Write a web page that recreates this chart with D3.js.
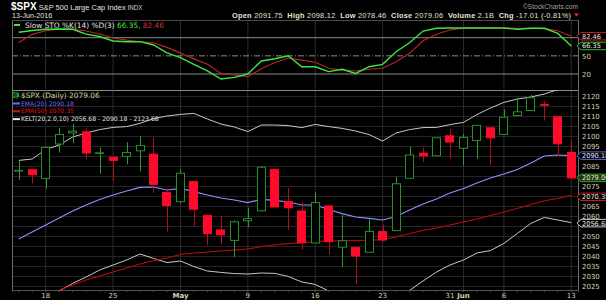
<!DOCTYPE html>
<html><head><meta charset="utf-8">
<script src="https://cdn.jsdelivr.net/npm/d3@7/dist/d3.min.js"></script>
<style>html,body{margin:0;padding:0;background:#000;}svg{display:block;}</style>
</head><body>
<script>
// ---------- DATA ----------
const dates = ["2016-04-14","2016-04-15","2016-04-18","2016-04-19","2016-04-20","2016-04-21","2016-04-22","2016-04-25","2016-04-26","2016-04-27","2016-04-28","2016-04-29","2016-05-02","2016-05-03","2016-05-04","2016-05-05","2016-05-06","2016-05-09","2016-05-10","2016-05-11","2016-05-12","2016-05-13","2016-05-16","2016-05-17","2016-05-18","2016-05-19","2016-05-20","2016-05-23","2016-05-24","2016-05-25","2016-05-26","2016-05-27","2016-05-31","2016-06-01","2016-06-02","2016-06-03","2016-06-06","2016-06-07","2016-06-08","2016-06-09","2016-06-10","2016-06-13"];
const openP  = [2082.7,2083.1,2078.8,2096.0,2101.5,2102.1,2091.5,2089.4,2089.8,2092.6,2090.9,2071.8,2067.2,2077.2,2060.3,2053.0,2047.8,2057.6,2062.6,2083.3,2067.2,2062.5,2046.5,2065.0,2044.4,2044.2,2041.9,2052.2,2052.7,2078.9,2091.4,2090.1,2100.1,2093.9,2097.7,2104.1,2100.8,2110.2,2112.7,2115.7,2109.6,2091.75];
const highP  = [2087.8,2083.2,2094.7,2104.0,2106.0,2103.8,2094.3,2089.4,2096.9,2099.9,2099.3,2073.9,2083.4,2077.2,2060.3,2060.2,2057.7,2064.2,2084.9,2083.3,2074.0,2066.8,2071.9,2065.7,2060.6,2044.2,2058.4,2055.6,2079.7,2094.7,2094.3,2099.1,2103.5,2101.0,2105.3,2104.1,2113.4,2119.2,2120.6,2117.6,2109.6,2098.12];
const lowP   = [2078.1,2076.3,2073.7,2091.7,2096.3,2088.5,2081.2,2077.5,2085.8,2082.3,2071.6,2052.3,2066.1,2054.9,2045.6,2045.8,2039.5,2054.3,2062.6,2064.5,2053.1,2043.1,2046.5,2040.8,2034.5,2025.9,2041.9,2047.3,2052.7,2078.9,2087.1,2090.1,2088.7,2085.1,2088.6,2085.4,2100.8,2110.2,2112.7,2107.7,2090.0,2078.46];
const closeP = [2082.8,2080.7,2094.3,2100.8,2102.4,2091.5,2091.6,2087.8,2091.7,2095.2,2075.8,2065.3,2081.4,2063.4,2051.1,2050.6,2057.1,2058.7,2084.4,2064.5,2064.1,2046.6,2066.7,2047.2,2047.6,2040.0,2052.3,2048.0,2076.1,2090.5,2090.1,2099.1,2097.0,2099.3,2105.3,2099.1,2109.4,2112.1,2119.1,2115.5,2096.1,2079.06];
const ema20  = [2048.5,2052,2055.5,2059,2062.5,2065.5,2068.3,2070.5,2072.5,2074.3,2074.5,2073,2073.8,2072.2,2070.5,2069,2068,2066.7,2068.3,2067.8,2067,2065.5,2065.5,2063.2,2061.2,2059.5,2058.8,2058,2059.7,2063,2066,2068.5,2071.5,2073.8,2076.5,2079,2081,2083.3,2086.5,2090,2090.5,2090.18];
const ema50  = [2015.5,2018,2020.5,2023,2025.5,2028,2030,2032,2034,2036,2037.7,2039,2040.8,2041.5,2042,2042.5,2043,2043.5,2044.7,2045.5,2046.2,2046.6,2047.2,2047.4,2047.6,2047.7,2047.9,2048.2,2049.5,2051.2,2052.8,2054,2055.5,2057,2058.5,2060.2,2062,2063.8,2065.7,2067.6,2068.8,2070.35];
const keltUpper = [2087.8,2088.5,2093.2,2095.5,2099.5,2101.5,2103.2,2104.3,2104.7,2106.3,2108.7,2110,2110.8,2111.3,2108.5,2106,2104.5,2102.2,2105.5,2105.5,2105.2,2104.2,2105.8,2104.7,2103.8,2102.5,2100.7,2097.5,2101.5,2103.2,2104.2,2104.3,2105.7,2106.8,2110.7,2114,2116.8,2118.5,2119.5,2121,2123.2,2123.68];
const keltLower = [2010,2014,2018,2022.5,2026.3,2029.5,2033,2035.5,2038,2041,2038.8,2036.7,2037.5,2034.7,2032.5,2031.8,2031.2,2031,2031.5,2031.3,2029.8,2027,2025.8,2022.5,2020,2018,2017,2017.5,2019.5,2022.8,2027.5,2032,2035.5,2038,2041.5,2042.7,2046.3,2051.3,2056.3,2059.3,2058,2056.68];
const stoK = [89,92,94,94.5,94,86,82,74.5,73.4,73.4,68,55,47,36,25,11.7,14.5,20,41.5,45.3,50.2,32,32,24,27.8,21,32,36,56.9,71.7,91,95.5,96,96,96,96,96,94,95.5,95.5,87,66.35];
const stoD = [72,85.5,91.6,94,94.4,91,86,79.5,76,73.4,71.5,64,54.5,45,36,21,18.3,15.5,28.5,39,46.5,43,39.3,29.5,26.6,25,27.8,29.4,40.4,54.2,75,85.6,92.7,95.5,96,96,96,95.5,95.5,95,91.6,82.46];
const priceTicks = [2025,2030,2035,2040,2045,2050,2055,2060,2065,2070,2075,2080,2085,2090,2095,2100,2105,2110,2115,2120];
const stoTicks = [20,50];
const stoLevels = [20,80];
const xTickDates  = ["2016-04-18","2016-04-25","2016-05-02","2016-05-09","2016-05-16","2016-05-23","2016-05-31","2016-06-01","2016-06-06","2016-06-13"];
const xTickLabels = ["18","25","May","9","16","23","31","Jun","6","13"];
const monthLabels = ["May","Jun"];
const gridDates = ["2016-04-18","2016-04-25","2016-05-02","2016-05-09","2016-05-16","2016-05-23","2016-06-01","2016-06-06","2016-06-13"];

// ---------- SETUP ----------
const W = 606, H = 300, L = 12, R = 578;
const mainTop = 90, mainBot = 290, stoTop = 20, stoBot = 89;
const svg = d3.select("body").append("svg").attr("width", W).attr("height", H).style("background", "#000");
const x = d3.scaleBand().domain(dates).range([L, R]).paddingInner(0.33).paddingOuter(0.165);
const cx = d => x(d) + x.bandwidth() / 2;
const y = d3.scaleLinear().domain([2025, 2120]).range([286, 96]);
const ys = d3.scaleLinear().domain([0, 100]).range([86.1, 25.6]);
const sans = "'DejaVu Sans', Verdana, sans-serif";
const arial = "'Liberation Sans', Arial, sans-serif";
const n = dates.length - 1;

const defs = svg.append("defs");
defs.append("clipPath").attr("id", "clipMain").append("rect").attr("x", L).attr("y", mainTop).attr("width", R - L).attr("height", mainBot - mainTop);
defs.append("clipPath").attr("id", "clipSto").append("rect").attr("x", L).attr("y", stoTop).attr("width", R - L).attr("height", stoBot - stoTop);

// ---------- GRIDS ----------
svg.append("g").attr("transform", `translate(${L},0)`)
  .call(d3.axisLeft(y).tickValues(priceTicks).tickSize(-(R - L)).tickFormat(""))
  .call(g => g.select(".domain").remove())
  .selectAll("line").attr("stroke", "#242424");
svg.append("g").attr("transform", `translate(0,${mainBot})`)
  .call(d3.axisBottom(x).tickValues(gridDates).tickSize(-(mainBot - mainTop)).tickFormat(""))
  .call(g => g.select(".domain").remove())
  .selectAll("line").attr("stroke", "#2c2c2c");
svg.append("g").attr("transform", `translate(0,${stoBot})`)
  .call(d3.axisBottom(x).tickValues(gridDates).tickSize(-(stoBot - stoTop)).tickFormat(""))
  .call(g => g.select(".domain").remove())
  .selectAll("line").attr("stroke", "#2c2c2c");

// stochastic reference levels
svg.append("g").selectAll("line").data(stoLevels).join("line")
  .attr("x1", L).attr("x2", R).attr("y1", d => ys(d)).attr("y2", d => ys(d))
  .attr("stroke", "#8a8a8a").attr("stroke-width", 1);
svg.append("line").attr("x1", L).attr("x2", R).attr("y1", ys(50)).attr("y2", ys(50))
  .attr("stroke", "#8a8a8a").attr("stroke-dasharray", "6,2,1,2");

// ---------- FRAMES ----------
const frame = svg.append("g").attr("stroke", "#6a6a6a").attr("stroke-width", 1);
frame.append("line").attr("x1", L + 0.5).attr("x2", L + 0.5).attr("y1", stoTop).attr("y2", mainBot);
frame.append("line").attr("x1", R + 0.5).attr("x2", R + 0.5).attr("y1", stoTop).attr("y2", mainBot);
frame.append("line").attr("x1", L).attr("x2", R).attr("y1", stoTop + 0.5).attr("y2", stoTop + 0.5).attr("stroke", "#4a4a4a");
frame.append("line").attr("x1", L).attr("x2", R).attr("y1", mainTop + 0.5).attr("y2", mainTop + 0.5).attr("stroke", "#8a8a8a");

// ---------- STOCHASTIC ----------
const sto = svg.append("g").attr("clip-path", "url(#clipSto)");
const sline = d3.line().x((d, i) => cx(dates[i])).y(d => ys(d));
sto.append("path").attr("d", sline(stoD)).attr("fill", "none").attr("stroke", "#b8262a").attr("stroke-width", 1.1);
sto.append("path").attr("d", sline(stoK)).attr("fill", "none").attr("stroke", "#3ee63e").attr("stroke-width", 1.4);

// ---------- MAIN PRICE ----------
const main = svg.append("g").attr("clip-path", "url(#clipMain)");
const pline = d3.line().x((d, i) => cx(dates[i])).y(d => y(d));
main.append("path").attr("d", pline(keltLower)).attr("fill", "none").attr("stroke", "#c8c8c8").attr("stroke-width", 1);
main.append("path").attr("d", pline(keltUpper)).attr("fill", "none").attr("stroke", "#c8c8c8").attr("stroke-width", 1);
main.append("path").attr("d", pline(ema50)).attr("fill", "none").attr("stroke", "#cc0a0a").attr("stroke-width", 1);
main.append("path").attr("d", pline(ema20)).attr("fill", "none").attr("stroke", "#9090ff").attr("stroke-width", 1.1);

const candles = dates.map((d, i) => ({ d, o: openP[i], h: highP[i], l: lowP[i], c: closeP[i], up: closeP[i] >= openP[i] }));
const bw = x.bandwidth();
main.append("g").selectAll("line").data(candles).join("line")
  .attr("x1", d => Math.round(cx(d.d)) + 0.5).attr("x2", d => Math.round(cx(d.d)) + 0.5)
  .attr("y1", d => y(d.h)).attr("y2", d => y(d.l))
  .attr("stroke", d => d.up ? "#2f9a2f" : "#b0101e").attr("stroke-width", 1);
main.append("g").selectAll("rect").data(candles).join("rect")
  .attr("x", d => Math.round(cx(d.d) - bw / 2) + 0.5)
  .attr("width", Math.round(bw) - 1)
  .attr("y", d => y(Math.max(d.o, d.c)))
  .attr("height", d => Math.max(0.6, Math.abs(y(d.o) - y(d.c))))
  .attr("fill", d => d.up ? "#000" : "#ff0a2a")
  .attr("stroke", d => d.up ? "#2a8f2a" : "#ff0a2a")
  .attr("stroke-width", 1);

// ---------- VALUE TAG POSITIONS (hide axis labels under tags) ----------
const mainTags = [
  { yy: y(ema20[n]), t: "2090.18", s: "#6060e0", f: "#000", c: "#e0e0f0" },
  { yy: y(closeP[n]), t: "2079.06", s: "#30a030", f: "#1c3a14", c: "#e8e8c0" },
  { yy: y(ema50[n]) + 1.5, t: "2070.35", s: "#d01818", f: "#000", c: "#e8e0e0" },
  { yy: y(keltLower[n]) + 0.5, t: "2056.68", s: "#c8c8c8", f: "#000", c: "#e8e8e8" }
];
const stoTags = [
  { yy: ys(stoD[n]), t: "82.46", s: "#d01818", f: "#000", c: "#e8e0e0" },
  { yy: ys(stoK[n]), t: "66.35", s: "#30c030", f: "#000", c: "#e0f0e0" }
];
const visiblePriceTicks = priceTicks.filter(v => mainTags.every(t => Math.abs(y(v) - t.yy) > 5.5));

// ---------- AXES ----------
svg.append("g").attr("transform", `translate(${R},0)`)
  .call(d3.axisRight(y).tickValues(visiblePriceTicks).tickSize(0).tickPadding(4).tickFormat(d3.format("d")))
  .call(g => g.select(".domain").remove())
  .selectAll("text").attr("fill", "#d6d2b0").style("font", `7px ${sans}`);
svg.append("g").attr("transform", `translate(${R},0)`)
  .call(d3.axisRight(ys).tickValues(stoTicks).tickSize(0).tickPadding(4))
  .call(g => g.select(".domain").remove())
  .selectAll("text").attr("fill", "#d6d2b0").style("font", `7px ${sans}`);
svg.append("g").attr("transform", `translate(0,${mainBot})`)
  .call(d3.axisBottom(x).tickValues(dates).tickSize(2).tickFormat(""))
  .call(g => g.select(".domain").attr("stroke", "#555"))
  .selectAll("line").attr("stroke", "#555");
svg.append("g").attr("transform", `translate(0,${mainBot})`)
  .call(d3.axisBottom(x).tickValues(xTickDates).tickSize(0).tickPadding(3)
    .tickFormat(d => xTickLabels[xTickDates.indexOf(d)]))
  .call(g => g.select(".domain").remove())
  .selectAll("text").attr("fill", "#d6d2b0")
  .style("font", d => (monthLabels.includes(xTickLabels[xTickDates.indexOf(d)]) ? "bold " : "") + `7px ${sans}`);

// ---------- VALUE TAGS ----------
function tag(t) {
  const g = svg.append("g");
  const h = 7.5, yPos = t.yy;
  g.append("path").attr("d", `M${R - 1},${yPos} L${R + 3},${yPos - h / 2} L${W + 4},${yPos - h / 2} L${W + 4},${yPos + h / 2} L${R + 3},${yPos + h / 2} Z`)
    .attr("fill", t.f).attr("stroke", t.s).attr("stroke-width", 1);
  g.append("text").attr("x", R + 4).attr("y", yPos).attr("dy", "0.36em").text(t.t)
    .attr("fill", t.c).style("font", `6.6px ${sans}`);
}
mainTags.forEach(tag);
stoTags.forEach(tag);

// ---------- LEGENDS ----------
svg.append("rect").attr("x", 14).attr("y", 24).attr("width", 6).attr("height", 2).attr("fill", "#3ee63e");
const sl = svg.append("text").attr("x", 25).attr("y", 27.5).style("font", `7.4px ${sans}`).attr("fill", "#e0e0e0");
sl.append("tspan").text("Slow STO %K(14) %D(3) ");
sl.append("tspan").attr("fill", "#3ee63e").text("66.35, ");
sl.append("tspan").attr("fill", "#d03030").text("82.46");

const lg = svg.append("g");
lg.append("rect").attr("x", 13).attr("y", 92.5).attr("width", 2).attr("height", 5).attr("fill", "none").attr("stroke", "#30b030").attr("stroke-width", 0.8);
lg.append("line").attr("x1", 17).attr("x2", 17).attr("y1", 91.5).attr("y2", 98.5).attr("stroke", "#30b030");
lg.append("rect").attr("x", 17.5).attr("y", 93).attr("width", 1.5).attr("height", 4).attr("fill", "#30b030");
lg.append("text").attr("x", 21).attr("y", 98).text("$SPX (Daily) 2079.06").attr("fill", "#cfc99a").style("font", `7.4px ${sans}`);
const legRows = [
  { t: "EMA(20) 2090.18", c: "#6a6aff", yy: 103.5 },
  { t: "EMA(50) 2070.35", c: "#e01010", yy: 111.3 },
  { t: "KELT(20,2.0,10) 2056.68 - 2090.18 - 2123.68", c: "#e8e8e8", yy: 119.1 }
];
legRows.forEach(r => {
  lg.append("rect").attr("x", 13).attr("y", r.yy - 1).attr("width", 7).attr("height", 2).attr("fill", r.c);
  lg.append("text").attr("x", 21).attr("y", r.yy).attr("dy", "0.36em").text(r.t).attr("fill", r.c).style("font", `6.1px ${sans}`);
});

// ---------- TITLE / HEADER ----------
const tt = svg.append("text").attr("x", 11).attr("y", 10).style("font-family", arial).attr("fill", "#fff");
tt.append("tspan").text("$SPX").style("font-weight", "bold").style("font-size", "10px");
tt.append("tspan").text(" S&P 500 Large Cap Index").style("font-size", "7.5px").attr("fill", "#e0e0e0");
tt.append("tspan").text("  INDX").style("font-size", "6.3px").attr("fill", "#d0d0d0");
svg.append("text").attr("x", 12).attr("y", 18.3).text("13-Jun-2016").attr("fill", "#e0e0e0").style("font", `7.2px ${arial}`);
svg.append("text").attr("x", 578).attr("y", 9).attr("text-anchor", "end").text("©StockCharts.com").attr("fill", "#a0a0a0").style("font", `6.6px ${arial}`);

const hdrParts = [["Open", " 2091.75  "], ["High", " 2098.12  "], ["Low", " 2078.46  "], ["Close", " 2079.06  "], ["Volume", " 2.1B  "], ["Chg", " -17.01 (-0.81%)"]];
const hd = svg.append("text").attr("x", 232).attr("y", 18).style("font-family", arial).style("font-size", "7.4px").attr("fill", "#e6e2d0")
  .attr("textLength", 339).attr("lengthAdjust", "spacing").attr("xml:space", "preserve");
hdrParts.forEach(p => {
  hd.append("tspan").text(p[0]).style("font-weight", "bold");
  hd.append("tspan").text(p[1]);
});
svg.append("path").attr("d", "M574,13.5 L579,13.5 L576.5,16.5 Z").attr("fill", "#ff2020");
</script>
</body></html>
